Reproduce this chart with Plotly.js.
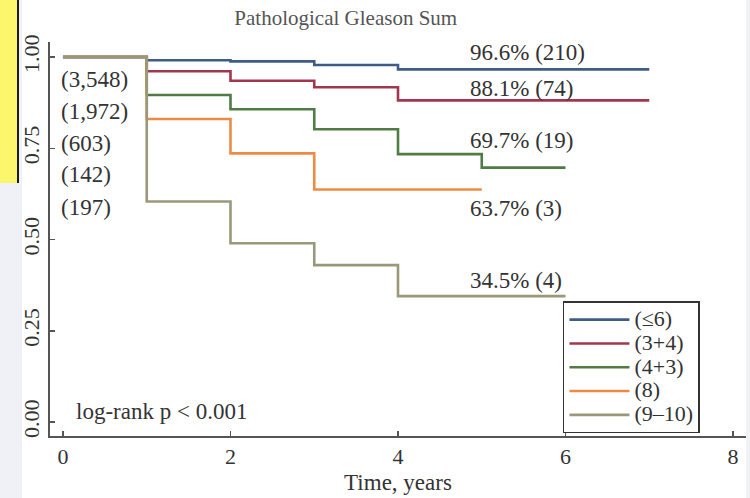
<!DOCTYPE html>
<html>
<head>
<meta charset="utf-8">
<script src="https://cdn.plot.ly/plotly-3.0.1.min.js"></script>
<style>
  html, body { margin: 0; padding: 0; background: #ffffff; }
  #wrap { position: relative; width: 750px; height: 498px; overflow: hidden; background: #ffffff; }
  #leftstrip { position: absolute; left: 0; top: 0; width: 22px; height: 498px; background: #eff1f6; }
  #yellow { position: absolute; left: 0; top: 0; width: 17px; height: 183px; background: #fcf66c; border-right: 2px solid #1a1a1a; }
  #rightstrip { position: absolute; left: 746px; top: 0; width: 4px; height: 498px; background: #f1f2f6; }
  #chart { position: absolute; left: 0; top: 0; width: 750px; height: 498px; }
</style>
</head>
<body>
<div id="wrap">
  <div id="leftstrip"></div>
  <div id="yellow"></div>
  <div id="rightstrip"></div>
  <div id="chart"></div>
</div>
<script>
// ---- Data ----
const groupNames = ["(≤6)", "(3+4)", "(4+3)", "(8)", "(9–10)"];
const groupColors = ["#3e5d86", "#a2364f", "#4f7c43", "#ef8a45", "#9a9878"];

const timeLow6   = [0, 1, 2, 3, 4, 7];
const survLow6   = [1.0, 0.991, 0.988, 0.978, 0.966, 0.966];

const time34     = [0, 1, 2, 3, 4, 7];
const surv34     = [1.0, 0.961, 0.935, 0.917, 0.881, 0.881];

const time43     = [0, 1, 2, 3, 4, 5, 6];
const surv43     = [1.0, 0.896, 0.857, 0.802, 0.734, 0.697, 0.697];

const time8      = [0, 1, 2, 3, 5];
const surv8      = [1.0, 0.830, 0.736, 0.637, 0.637];

const time910    = [0, 1, 2, 3, 4, 6];
const surv910    = [1.0, 0.604, 0.490, 0.430, 0.345, 0.345];

const atRiskLabels = ["(3,548)", "(1,972)", "(603)", "(142)", "(197)"];
const finalLabels  = ["96.6% (210)", "88.1% (74)", "69.7% (19)", "63.7% (3)", "34.5% (4)"];

const xTicks = [0, 2, 4, 6, 8];
const yTicks = [0, 0.25, 0.5, 0.75, 1.0];
const yTickText = ["0.00", "0.25", "0.50", "0.75", "1.00"];

// ---- Layout helpers (positions, not data) ----
const atRiskPos = [[-0.05, 0.937], [-0.05, 0.852], [-0.05, 0.764], [-0.05, 0.677], [-0.05, 0.589]];
const finalPos  = [[4.83, 1.011], [4.83, 0.915], [4.83, 0.770], [4.83, 0.586], [4.83, 0.389]];

const serif = "'Liberation Serif', 'Times New Roman', serif";
const textColor = "#333333";

const series = [
  [timeLow6, survLow6],
  [time34, surv34],
  [time43, surv43],
  [time8, surv8],
  [time910, surv910]
];

const traces = series.map((s, i) => ({
  x: s[0], y: s[1],
  type: "scatter", mode: "lines",
  name: '<span style="font-size:22px">' + groupNames[i] + '</span>',
  line: { shape: "hv", color: groupColors[i], width: 2.6 },
  hoverinfo: "skip"
}));

const annoFont = { family: serif, size: 23, color: textColor };
const annotations = [];
atRiskLabels.forEach((t, i) => annotations.push({
  x: atRiskPos[i][0], y: atRiskPos[i][1], xref: "x", yref: "y",
  text: t, showarrow: false, xanchor: "left", yanchor: "middle", font: annoFont
}));
finalLabels.forEach((t, i) => annotations.push({
  x: finalPos[i][0], y: finalPos[i][1], xref: "x", yref: "y",
  text: t, showarrow: false, xanchor: "left", yanchor: "middle", font: annoFont
}));
annotations.push({
  x: 0.13, y: 0.030, xref: "x", yref: "y",
  text: "log-rank p < 0.001", showarrow: false, xanchor: "left", yanchor: "middle", font: annoFont
});

const layout = {
  width: 750, height: 498,
  margin: { l: 50, r: 4, t: 42, b: 62, pad: 0 },
  paper_bgcolor: "rgba(0,0,0,0)",
  plot_bgcolor: "rgba(0,0,0,0)",
  title: {
    text: "Pathological Gleason Sum",
    x: 0.461, xanchor: "center", y: 0.965, yanchor: "middle",
    font: { family: serif, size: 21, color: "#555555" }
  },
  showlegend: true,
  legend: {
    x: 0.737, y: 0.342, xanchor: "left", yanchor: "top",
    bgcolor: "#ffffff", bordercolor: "#333333", borderwidth: 1.5,
    font: { family: serif, size: 16, color: textColor },
    itemwidth: 60,
    tracegroupgap: 0
  },
  xaxis: {
    range: [-0.155, 8.155],
    tickvals: xTicks, ticktext: xTicks.map(String),
    ticks: "inside", ticklen: 5, tickwidth: 1.5, tickcolor: "#555555",
    showline: true, linecolor: "#555555", linewidth: 1.8,
    showgrid: false, zeroline: false,
    tickfont: { family: serif, size: 22, color: textColor },
    title: { text: "Time, years", font: { family: serif, size: 23, color: textColor }, standoff: 6 }
  },
  yaxis: {
    range: [-0.038, 1.041],
    tickvals: yTicks, ticktext: yTickText,
    ticks: "inside", ticklen: 5, tickwidth: 1.5, tickcolor: "#555555",
    showline: true, linecolor: "#555555", linewidth: 1.8,
    showgrid: false, zeroline: false,
    tickangle: -90,
    tickfont: { family: serif, size: 22, color: textColor }
  },
  annotations: annotations
};

Plotly.newPlot("chart", traces, layout, { displayModeBar: false, staticPlot: true });
</script>
</body>
</html>
